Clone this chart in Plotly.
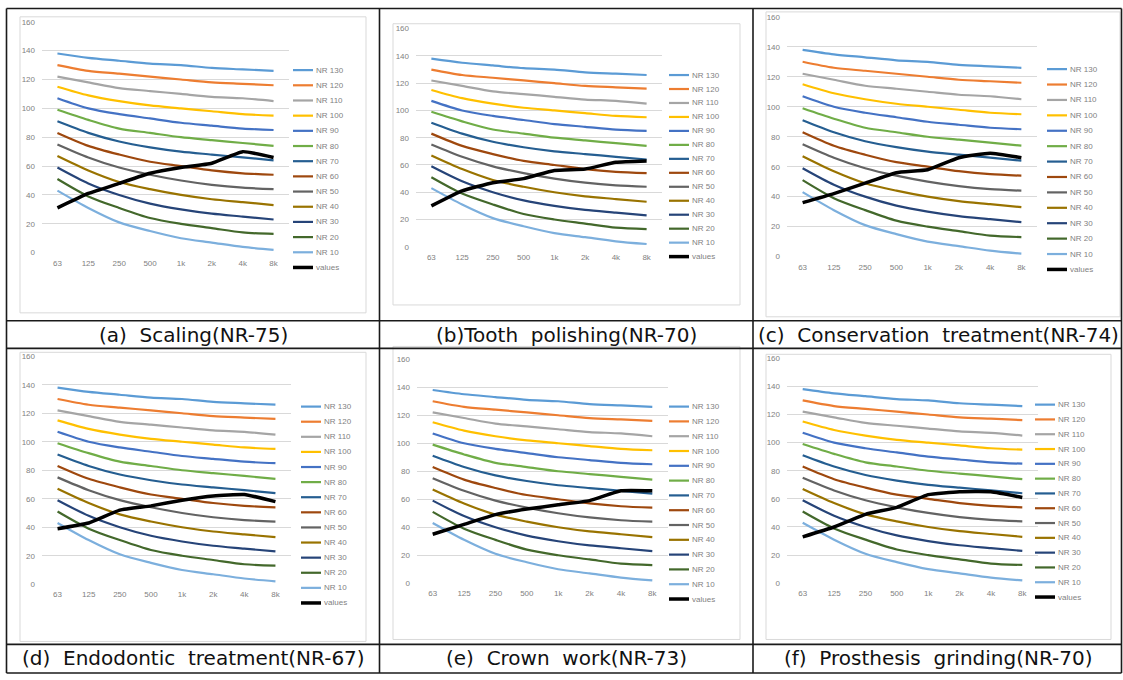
import plotly.graph_objects as go

W, H = 1123, 680

freqs = ["63", "125", "250", "500", "1k", "2k", "4k", "8k"]
y_ticks = [0, 20, 40, 60, 80, 100, 120, 140, 160]

nr130 = [138, 135, 133, 131, 130, 128, 127, 126]
nr120 = [130, 126, 124, 122, 120, 118, 117, 116]
nr110 = [122, 118, 114, 112, 110, 108, 107, 105]
nr100 = [115, 109, 105, 102, 100, 98, 96, 95]
nr90 = [107, 100, 96, 93, 90, 88, 86, 85]
nr80 = [99, 92, 86, 83, 80, 78, 76, 74]
nr70 = [91, 83, 77, 73, 70, 68, 66, 64]
nr60 = [83, 74, 68, 63, 60, 57, 55, 54]
nr50 = [75, 66, 59, 54, 50, 47, 45, 44]
nr40 = [67, 57, 49, 44, 40, 37, 35, 33]
nr30 = [59, 48, 40, 34, 30, 27, 25, 23]
nr20 = [51, 39, 31, 24, 20, 17, 14, 13]
nr10 = [43, 31, 21, 15, 10, 7, 4, 2]

nr_names = ["NR 130", "NR 120", "NR 110", "NR 100", "NR 90", "NR 80", "NR 70",
            "NR 60", "NR 50", "NR 40", "NR 30", "NR 20", "NR 10"]
nr_series = [nr130, nr120, nr110, nr100, nr90, nr80, nr70, nr60, nr50, nr40, nr30, nr20, nr10]

values_a = [31, 41, 48, 55, 59, 62, 70, 66]
values_b = [30, 41, 47, 50, 56, 57, 62, 63]
values_c = [36, 42, 49, 56, 58, 66, 69, 66]
values_d = [39, 43, 52, 55, 59, 62, 63, 58]
values_e = [35, 42, 49, 53, 56, 59, 66, 66]
values_f = [33, 40, 49, 54, 63, 65, 65, 61]

captions = ["(a)  Scaling(NR-75)", "(b)Tooth  polishing(NR-70)", "(c)  Conservation  treatment(NR-74)",
            "(d)  Endodontic  treatment(NR-67)", "(e)  Crown  work(NR-73)", "(f)  Prosthesis  grinding(NR-70)"]
panel_values = [values_a, values_b, values_c, values_d, values_e, values_f]

colors = ["#5B9BD5", "#ED7D31", "#A5A5A5", "#FFC000", "#4472C4", "#70AD47", "#255E91",
          "#9E480E", "#636363", "#997300", "#264478", "#43682B", "#7CAFDD"]

# layout geometry in pixels (x0, x1, ytop(160), ybottom(0)) and chart-area boxes, legends
plots = [(42, 289, 18, 252), (416, 662, 25, 246), (787, 1037, 13, 256),
         (42, 291, 357, 588), (417, 668, 360, 587), (787, 1038, 359, 587)]
areas = [(20, 13, 366, 313), (393, 20, 740, 305), (766, 8, 1120, 317),
         (20, 353, 366, 646), (393, 347, 740, 644), (766, 355, 1111, 644)]
legends = [(293, 67, 267), (669, 72, 256), (1047, 66, 269),
           (301, 408, 607), (669, 408, 603), (1035, 406, 601)]
cap_y = [335, 335, 335, 663, 663, 663]
cap_x = [193, 566, 938, 193, 566, 938]

def px(x):
    return x / W

def py(y):
    return 1 - y / H

fig = go.Figure()
shapes = []
annotations = []

for i in range(6):
    n = i + 1
    xa = "x" if n == 1 else f"x{n}"
    ya = "y" if n == 1 else f"y{n}"
    ax0, ay0, ax1, ay1 = areas[i]
    shapes.append(dict(type="rect", xref="paper", yref="paper", x0=px(ax0), x1=px(ax1),
                       y0=py(ay1), y1=py(ay0), line=dict(color="#d9d9d9", width=1),
                       fillcolor="white", layer="below"))
    for name, ser, col in zip(nr_names, nr_series, colors):
        fig.add_trace(go.Scatter(x=freqs, y=ser, mode="lines", name=name, xaxis=xa, yaxis=ya,
                                 line=dict(color=col, width=2.2, shape="spline", smoothing=0.8),
                                 showlegend=False))
    fig.add_trace(go.Scatter(x=freqs, y=panel_values[i], mode="lines", name="values", xaxis=xa, yaxis=ya,
                             line=dict(color="black", width=3.5, shape="spline", smoothing=0.4),
                             showlegend=False))
    x0, x1, yt, yb = plots[i]
    xkey = "xaxis" if n == 1 else f"xaxis{n}"
    ykey = "yaxis" if n == 1 else f"yaxis{n}"
    fig.update_layout({
        xkey: dict(domain=[px(x0), px(x1)], anchor=ya, type="category", categoryorder="array",
                   categoryarray=freqs, range=[-0.5, 7.5], showgrid=False, zeroline=False,
                   showline=False, ticks="", ticklabelstandoff=4,
                   tickfont=dict(size=8, color="#7f7f7f", family="Liberation Sans"),
                   fixedrange=True),
        ykey: dict(domain=[py(yb), py(yt)], anchor=xa, range=[0, 160], tickvals=y_ticks,
                   showgrid=True, gridcolor="#d9d9d9", gridwidth=1, zeroline=False, showline=False,
                   ticks="", ticklabelstandoff=6,
                   tickfont=dict(size=8, color="#7f7f7f", family="Liberation Sans"),
                   fixedrange=True),
    })
    # legend (manual)
    lx, ly0, ly1 = legends[i]
    names = nr_names + ["values"]
    cols = colors + ["black"]
    step = (ly1 - ly0) / (len(names) - 1)
    for k, (nm, c) in enumerate(zip(names, cols)):
        yy = ly0 + k * step
        shapes.append(dict(type="line", xref="paper", yref="paper", x0=px(lx), x1=px(lx + 20),
                           y0=py(yy), y1=py(yy),
                           line=dict(color=c, width=3.5 if nm == "values" else 2.2)))
        annotations.append(dict(xref="paper", yref="paper", x=px(lx + 20.5), y=py(yy), text=nm,
                                showarrow=False, xanchor="left", yanchor="middle",
                                font=dict(size=8, color="#7f7f7f", family="Liberation Sans")))
    annotations.append(dict(xref="paper", yref="paper", x=px(cap_x[i]), y=py(cap_y[i]), text=captions[i],
                            showarrow=False, xanchor="center", yanchor="middle",
                            font=dict(size=20, color="#111111", family="DejaVu Sans")))

# table borders
bw = 1.6
bc = "#1a1a1a"
hlines = [4.5, 321, 349, 649, 678]
vlines = [6.5, 379.5, 753, 1121.5]
for yy in hlines:
    shapes.append(dict(type="line", xref="paper", yref="paper", x0=px(6.5), x1=px(1121.5),
                       y0=py(yy), y1=py(yy), line=dict(color=bc, width=bw)))
for xx in vlines:
    shapes.append(dict(type="line", xref="paper", yref="paper", x0=px(xx), x1=px(xx),
                       y0=py(4.5), y1=py(678), line=dict(color=bc, width=bw)))

fig.update_layout(width=W, height=H, margin=dict(l=0, r=0, t=0, b=0),
                  paper_bgcolor="white", plot_bgcolor="rgba(0,0,0,0)",
                  shapes=shapes, annotations=annotations, showlegend=False)

fig.write_html("out.html", config={"displayModeBar": False},
               post_script="document.body.style.margin='0';")
